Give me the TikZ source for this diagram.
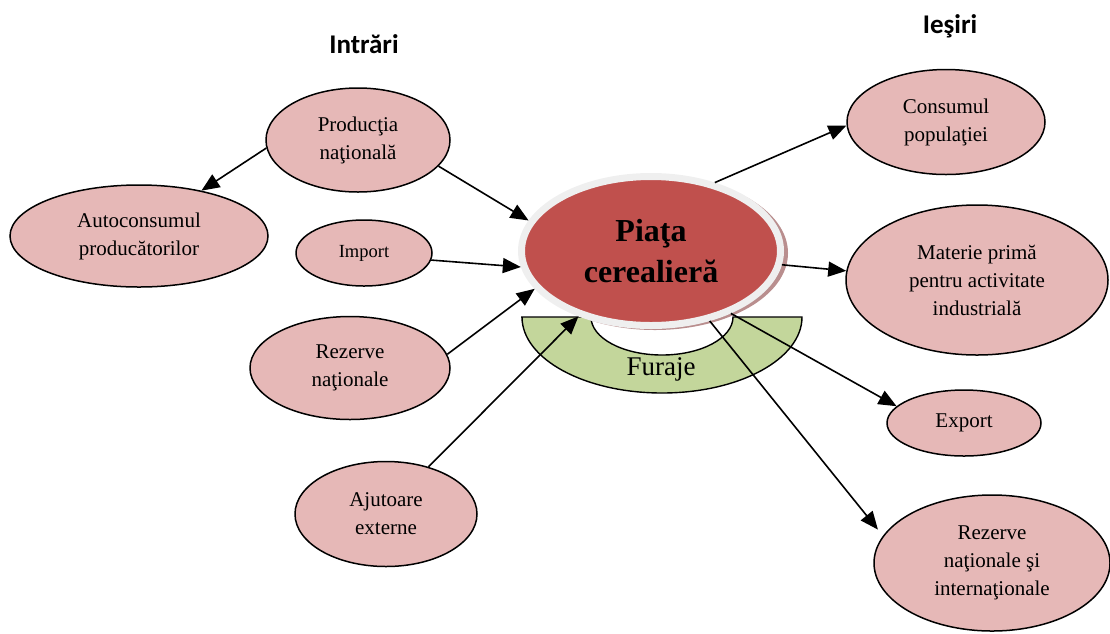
\documentclass[tikz,border=0pt]{standalone}
\usepackage{fontspec}
\setmainfont{Liberation Serif}
\newfontfamily\headfont{Carlito}
\usetikzlibrary{shapes.geometric,arrows.meta}

\definecolor{nodepink}{HTML}{E6B8B7}
\definecolor{marketred}{HTML}{C0504D}
\definecolor{rimgray}{HTML}{EFEFEF}
\definecolor{shadowrose}{HTML}{B98E8E}
\definecolor{feedgreen}{HTML}{C3D69B}

\tikzset{
  flow/.style={ellipse, draw=black, line width=1.5pt, fill=nodepink,
    inner sep=0pt, align=center, font=\fontsize{21}{28}\selectfont},
  flowsmall/.style={flow, font=\fontsize{18.5}{24}\selectfont},
  heading/.style={font=\headfont\bfseries\fontsize{27}{30}\selectfont},
  link/.style={line width=1.6pt, -{Triangle[length=18pt,width=15pt]}},
}

\begin{document}
\begin{tikzpicture}[x=1pt,y=-1pt]
\useasboundingbox (0,0) rectangle (1110,633);

% headings
\node[heading] (hin)  at (364,44) {Intrări};
\node[heading] (hout) at (950,26) {Ieşiri};

% fodder half ring under the market
\path[draw=black, line width=1.4pt, fill=feedgreen]
  (521,317) -- (591,317)
  arc[start angle=180, end angle=0, x radius=71, y radius=38]
  -- (802,317)
  arc[start angle=0, end angle=180, x radius=140, y radius=76] -- cycle;
\node[font=\fontsize{27}{30}\selectfont] (fur) at (661,369) {Furaje};

% central market with rim and soft shadow
\fill[shadowrose] (655,253) ellipse[x radius=133, y radius=77];
\node[ellipse, fill=marketred, draw=rimgray, line width=7pt,
  minimum width=259pt, minimum height=149pt, inner sep=0pt, align=center,
  font=\bfseries\fontsize{32}{41}\selectfont] (piata) at (651,251)
  {Piaţa\\cerealieră};

% inputs
\node[flow, minimum width=184pt, minimum height=104pt] (prod) at (358,140) {Producţia\\naţională};
\node[flow, minimum width=258pt, minimum height=102pt] (auto) at (139,236) {Autoconsumul\\producătorilor};
\node[flowsmall, minimum width=136pt, minimum height=66pt] (imp) at (364,253) {Import};
\node[flow, minimum width=200pt, minimum height=103pt] (rez) at (350,368) {Rezerve\\naţionale};
\node[flow, minimum width=182pt, minimum height=105pt] (aj) at (386,514) {Ajutoare\\externe};

% outputs
\node[flow, minimum width=198pt, minimum height=105pt] (cons) at (946,122) {Consumul\\populaţiei};
\node[flow, minimum width=262pt, minimum height=150pt] (mat) at (977,280) {Materie primă\\pentru activitate\\industrială};
\node[flow, minimum width=154pt, minimum height=66pt] (exp) at (964,423) {Export};
\node[flow, minimum width=236pt, minimum height=136pt] (rezi) at (992,563) {Rezerve\\naţionale şi\\internaţionale};

% connectors
\draw[link] (prod.185) -- (auto.36);
\draw[link] (prod.-18) -- (piata.166);
\draw[link] (imp.-6)   -- (piata.187);
\draw[link] (rez.8)    -- (piata.198);
\draw[link] (aj.48)    -- (piata.222);
\draw[link] (piata.47) -- (cons.182);
\draw[link] (piata.-6) -- (mat.176);
\draw[link] (piata.-38) -- (exp.166);
\draw[link, shorten >=8pt] (piata.-50) -- (rezi.166);
\end{tikzpicture}
\end{document}
